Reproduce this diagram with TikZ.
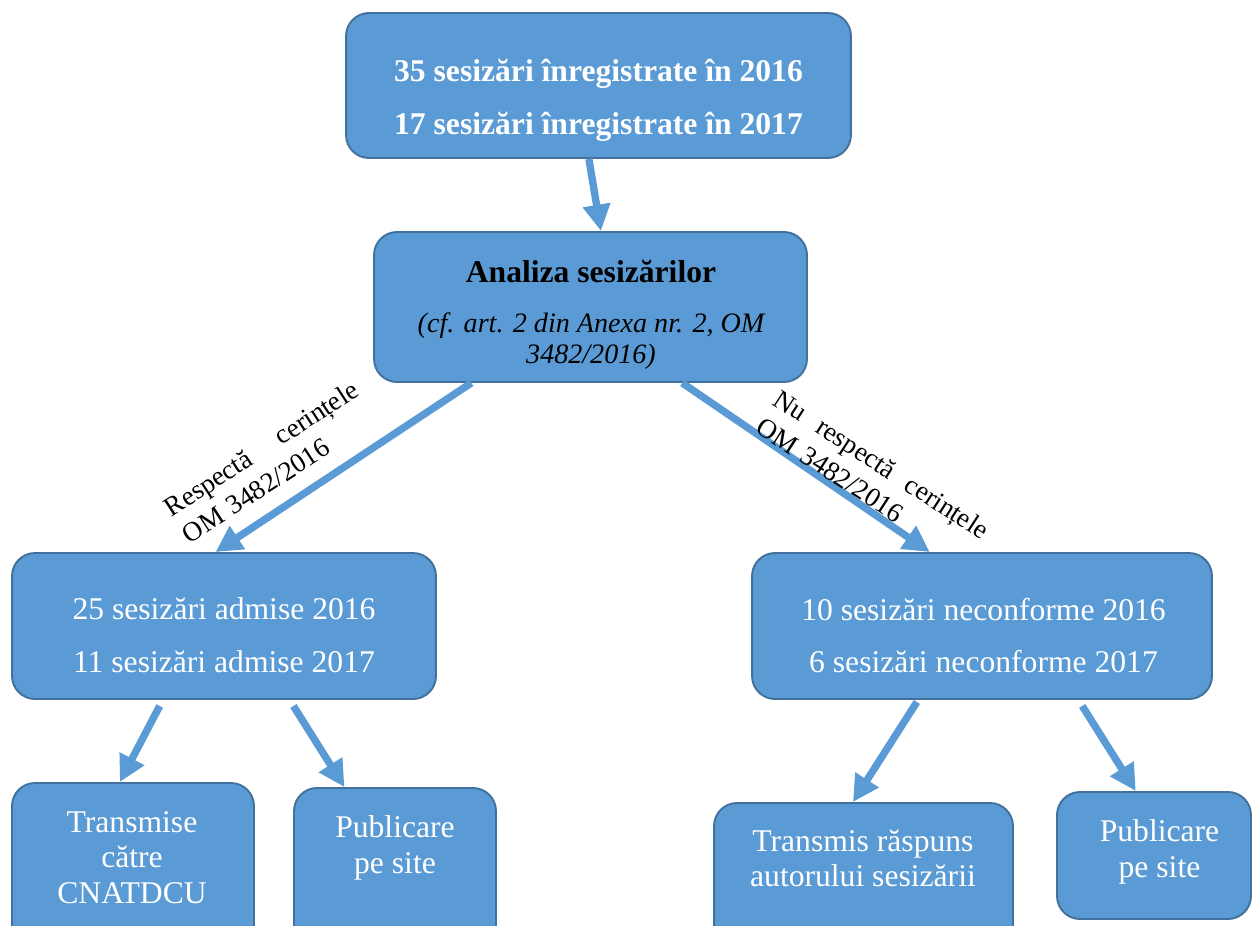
\documentclass[tikz,border=0pt]{standalone}
\usepackage{fontspec}
\setmainfont{Liberation Serif}
\usetikzlibrary{calc,arrows.meta}
\definecolor{boxblue}{HTML}{5B9BD5}
\definecolor{boxedge}{HTML}{41719C}
\tikzset{
  box/.style={rounded corners=0.46cm, draw=boxedge, line width=1.1pt, fill=boxblue, inner sep=0pt},
  flow/.style={draw=boxblue, line width=4.2pt, -{Triangle[width=15pt,length=15pt]}},
  wtxt/.style={text=white, align=center, inner sep=0pt, font=\fontsize{18}{30}\selectfont},
  wsmall/.style={text=white, align=center, inner sep=0pt, font=\fontsize{18}{20.2}\selectfont},
  lbl/.style={align=left, inner sep=0pt, font=\fontsize{15.5}{18.5}\selectfont}
}
\begin{document}
\begin{tikzpicture}[x=0.02cm, y=-0.02cm]
            \clip (0,0) rectangle (1252,926);
            % boxes
            \node[box, minimum width=10.1cm, minimum height=2.9cm] (top) at (598.5,85.5) {};
            \node[box, minimum width=8.66cm, minimum height=3cm] (anal) at (590.5,307) {};
            \node[box, minimum width=8.48cm, minimum height=2.92cm] (adm) at (224,626) {};
            \node[box, minimum width=9.2cm, minimum height=2.92cm] (neconf) at (982,626) {};
            \node[box, minimum width=4.84cm, minimum height=3.54cm] (cnat) at (133,871.5) {};
            \node[box, minimum width=4.04cm, minimum height=3.44cm] (publ) at (395,874) {};
            \node[box, minimum width=5.98cm, minimum height=3.14cm] (rasp) at (863.5,881.5) {};
            \node[box, minimum width=3.88cm, minimum height=2.54cm] (pubr) at (1154,855.5) {};
            % texts
            \node[wtxt, font=\fontsize{18}{30}\selectfont\bfseries] (toptxt) at (598.5,100) {35 sesizări înregistrate în 2016\\17 sesizări înregistrate în 2017};
            \node[align=center, inner sep=0pt, font=\fontsize{16}{18.1}\selectfont] (analtxt) at (591,315)
              {{\fontsize{18}{18.1}\selectfont\bfseries Analiza sesizărilor}\\[10.3pt]{\itshape (cf. art. 2 din Anexa nr. 2, OM}\\{\itshape 3482/2016)}};
            \node[wtxt] (admtxt) at (224,635.5) {25 sesizări admise 2016\\11 sesizări admise 2017};
            \node[wtxt] (neconftxt) at (983.5,635.5) {10 sesizări neconforme 2016\\6 sesizări neconforme 2017};
            \node[wsmall] (cnattxt) at (132,857.5) {Transmise\\către\\CNATDCU};
            \node[wsmall] (publtxt) at (395,848) {Publicare\\pe site};
            \node[wsmall] (rasptxt) at (863,858.5) {Transmis răspuns\\autorului sesizării};
            \node[wsmall] (pubrtxt) at (1159.5,852) {Publicare\\pe site};
            % arrows
            \draw[flow] ($(top.south west)!0.481!(top.south east)$) -- ($(anal.north west)!0.524!(anal.north east)$);
            \draw[flow] ($(anal.south west)!0.226!(anal.south east)$) -- ($(adm.north west)!0.48!(adm.north east)$);
            \draw[flow] ($(anal.south west)!0.711!(anal.south east)$) -- ($(neconf.north west)!0.387!(neconf.north east)$);
            \draw[flow] ($(adm.south west)!0.349!(adm.south east)+(0,6)$) -- ($(cnat.north west)!0.446!(cnat.north east)$);
            \draw[flow] ($(adm.south west)!0.663!(adm.south east)+(0,6)$) -- ($(publ.north west)!0.252!(publ.north east)$);
            \draw[flow] ($(neconf.south west)!0.359!(neconf.south east)+(0,2)$) -- ($(rasp.north west)!0.465!(rasp.north east)$);
            \draw[flow] ($(neconf.south west)!0.717!(neconf.south east)+(0,6)$) -- ($(pubr.north west)!0.407!(pubr.north east)$);
            % arrow labels
            \node[lbl, rotate=33, text width=4.5cm] (oklbl) at (270,462) {Respectă\hfill cerințele\\OM 3482/2016};
            \node[lbl, rotate=-33, text width=5cm] (noklbl) at (873,478) {Nu\hfill respectă\hfill cerințele\\OM 3482/2016};
        \end{tikzpicture}
\end{document}
